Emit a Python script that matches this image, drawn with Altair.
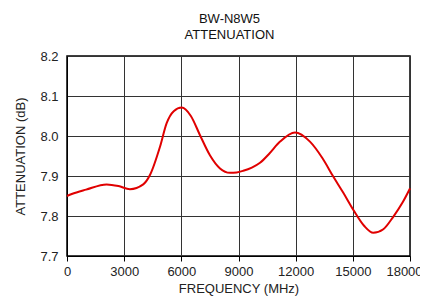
import altair as alt
import pandas as pd

freq = [0, 250, 1000, 2080, 2700, 3300, 4000, 4360, 4880, 5230, 5600, 6020, 6500,
        6980, 7500, 8030, 8550, 8905, 9250, 9700, 10130, 10600, 11180, 11965,
        12750, 13400, 13980, 14500, 15030, 15600, 16070, 16600, 17120, 17600, 18000]
atten = [7.850, 7.855, 7.866, 7.879, 7.875, 7.867, 7.879, 7.903, 7.973, 8.032, 8.062, 8.071, 8.050,
         8.002, 7.952, 7.919, 7.908, 7.909, 7.913, 7.921, 7.933, 7.955, 7.986, 8.009,
         7.986, 7.945, 7.898, 7.858, 7.815, 7.775, 7.758, 7.767, 7.798, 7.833, 7.869]

df = pd.DataFrame({"f": freq, "a": atten})

FONT = "Liberation Sans"

chart = alt.Chart(df).mark_line(color="#e00000", strokeWidth=2, interpolate="monotone").encode(
    x=alt.X("f:Q", scale=alt.Scale(domain=[0, 18000], nice=False),
            axis=alt.Axis(title="FREQUENCY (MHz)", values=[0, 3000, 6000, 9000, 12000, 15000, 18000],
                          format="d", labelFlush=False,
                          labelOffset={"condition": {"test": "datum.value == 18000", "value": -6},
                                       "value": 0})),
    y=alt.Y("a:Q", scale=alt.Scale(domain=[7.7, 8.2], nice=False, zero=False),
            axis=alt.Axis(title="ATTENUATION (dB)", values=[7.7, 7.8, 7.9, 8.0, 8.1, 8.2],
                          format=".1f", ticks=False)),
).properties(
    width=343, height=200,
    title=alt.TitleParams(text=["BW-N8W5", "ATTENUATION"], font=FONT, fontSize=13,
                          fontWeight="normal", color="#111", anchor="middle", dx=-9,
                          lineHeight=16, offset=8),
    padding={"left": 59, "top": 48, "right": 10, "bottom": 44},
    autosize=alt.AutoSizeParams(type="none"),
).configure_view(
    stroke="#000", strokeWidth=1.5
).configure_axis(
    labelFont=FONT, labelFontSize=13, labelColor="#222",
    titleFont=FONT, titleFontSize=13, titleColor="#222", titleFontWeight="normal",
    grid=True, gridColor="#333", gridWidth=1, gridOpacity=1,
    domainColor="#000", tickColor="#000", tickSize=5,
).configure_axisX(
    labelPadding=4, titlePadding=4
).configure_axisY(
    labelPadding=9, titlePadding=12
)

chart.save("out.html", embed_options={"renderer": "svg", "actions": False})
